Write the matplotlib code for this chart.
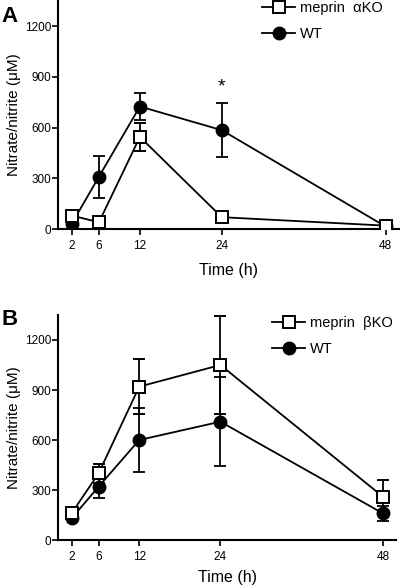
import matplotlib
matplotlib.use('Agg')
import matplotlib.pyplot as plt
from matplotlib.lines import Line2D

plt.rcParams['font.family'] = ['Liberation Sans', 'DejaVu Sans']

time_h = [2, 6, 12, 24, 48]
yticks = [0, 300, 600, 900, 1200]

# panel A: meprin alpha KO vs WT
a_ko = [80, 40, 545, 70, 20]
a_ko_err = [0, 0, 85, 0, 0]
a_wt = [30, 310, 725, 585, 15]
a_wt_err = [0, 125, 80, 160, 0]

# panel B: meprin beta KO vs WT
b_ko = [160, 400, 920, 1050, 260]
b_ko_err = [0, 55, 165, 295, 100]
b_wt = [130, 320, 600, 710, 160]
b_wt_err = [0, 70, 190, 265, 45]

fig = plt.figure(figsize=(4, 5.88), dpi=100)
axA = fig.add_axes([0.145, 0.6105, 0.853, 0.388])
axB = fig.add_axes([0.145, 0.0816, 0.846, 0.3827])


def draw(ax, ko, ko_err, wt, wt_err, ko_label, leg_anchor, xpad):
    ax.errorbar(time_h, wt, yerr=wt_err, color='black', lw=1.3, marker='o',
                ms=9, mfc='black', mec='black', capsize=4, capthick=1.3,
                elinewidth=1.3, zorder=2)
    ax.errorbar(time_h, ko, yerr=ko_err, color='black', lw=1.3, marker='s',
                ms=9, mfc='white', mec='black', mew=1.4, capsize=4, capthick=1.3,
                elinewidth=1.3, zorder=3)
    ax.set_xlim(0, 50)
    ax.set_ylim(0, 1350)
    ax.set_xticks(time_h)
    ax.set_yticks(yticks)
    for s in ['top', 'right']:
        ax.spines[s].set_visible(False)
    for s in ['left', 'bottom']:
        ax.spines[s].set_linewidth(1.5)
    ax.tick_params(axis='both', labelsize=8.5, width=1.2, length=4)
    ax.tick_params(axis='x', pad=4)
    ax.tick_params(axis='y', pad=1)
    ax.set_xlabel('Time (h)', fontsize=11.5, labelpad=xpad)
    ax.set_ylabel('Nitrate/nitrite (\u03bcM)', fontsize=11, labelpad=3)
    handles = [
        Line2D([], [], color='black', lw=1.3, marker='s', ms=9, mfc='white',
               mec='black', mew=1.4),
        Line2D([], [], color='black', lw=1.3, marker='o', ms=9, mfc='black'),
    ]
    ax.legend(handles, [ko_label, 'WT'], loc='upper left',
              bbox_to_anchor=leg_anchor, frameon=False, fontsize=10.5,
              handlelength=2.3, handletextpad=0.3, labelspacing=0.8,
              borderaxespad=0)


draw(axA, a_ko, a_ko_err, a_wt, a_wt_err, 'meprin  \u03b1KO', (0.58, 1.025), 8)
draw(axB, b_ko, b_ko_err, b_wt, b_wt_err, 'meprin  \u03b2KO', (0.615, 1.02), 5)

axA.text(24, 840, '*', ha='center', va='center', fontsize=14)

fig.text(0.003, 0.99, 'A', fontsize=16, fontweight='bold', va='top')
fig.text(0.003, 0.475, 'B', fontsize=16, fontweight='bold', va='top')

fig.savefig('out.png', dpi=100)
